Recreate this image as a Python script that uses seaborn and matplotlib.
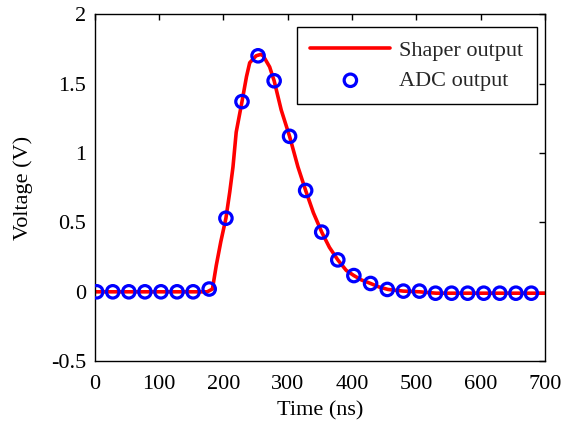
import matplotlib
matplotlib.use("Agg")
import matplotlib.pyplot as plt
import seaborn as sns
import pandas as pd

# Shaper output (continuous curve)
shaper_t = [0, 100, 175, 183, 189, 196, 204, 210, 215, 220, 229, 236, 241, 251,
            258, 262, 272, 279, 290, 303, 316, 328, 340, 353, 365, 378, 391,
            403, 415, 429, 442, 456, 480, 505, 531, 600, 700]
shaper_v = [0.0, 0.0, 0.0, 0.02, 0.19, 0.36, 0.53, 0.72, 0.90, 1.15, 1.37, 1.55,
            1.65, 1.70, 1.71, 1.70, 1.62, 1.52, 1.31, 1.12, 0.90, 0.73, 0.57,
            0.43, 0.32, 0.23, 0.155, 0.117, 0.085, 0.06, 0.035, 0.017, 0.005,
            0.0, -0.01, -0.01, -0.01]

# ADC output samples
adc_t = [3, 28, 53, 78, 103, 128, 153, 178, 204, 229, 254, 279, 303, 328,
         353, 378, 403, 429, 455, 480, 505, 530, 555, 580, 605, 630, 655, 679]
adc_v = [0.0, 0.0, 0.0, 0.0, 0.0, 0.0, 0.0, 0.02, 0.53, 1.37, 1.70, 1.52,
         1.12, 0.73, 0.43, 0.23, 0.117, 0.06, 0.017, 0.005, 0.005, -0.01,
         -0.01, -0.01, -0.01, -0.01, -0.01, -0.01]

xticks = [0, 100, 200, 300, 400, 500, 600, 700]
xtick_labels = ["0", "100", "200", "300", "400", "500", "600", "700"]
yticks = [-0.5, 0, 0.5, 1, 1.5, 2]
ytick_labels = ["-0.5", "0", "0.5", "1", "1.5", "2"]

sns.set_theme(style="white")
plt.rcParams["font.family"] = ["Liberation Serif", "DejaVu Serif"]

df_line = pd.DataFrame({"t": shaper_t, "v": shaper_v})
df_adc = pd.DataFrame({"t": adc_t, "v": adc_v})

fig = plt.figure(figsize=(5.64, 4.29), dpi=100)
ax = fig.add_axes([0.168, 0.158, 0.798, 0.809])

sns.lineplot(data=df_line, x="t", y="v", ax=ax, color="#ff0000", linewidth=2.6,
             label="Shaper output", estimator=None, sort=False)
sns.scatterplot(data=df_adc, x="t", y="v", ax=ax, marker="o", s=80,
                facecolors="none", edgecolor="#0000ff", linewidth=2.3,
                label="ADC output", zorder=3)

ax.set_xlim(0, 700)
ax.set_ylim(-0.5, 2)
ax.set_xticks(xticks)
ax.set_xticklabels(xtick_labels)
ax.set_yticks(yticks)
ax.set_yticklabels(ytick_labels)
ax.tick_params(direction="in", length=4, width=1, top=True, right=True,
               labelsize=16, colors="black")
ax.tick_params(axis="x", pad=10)
ax.tick_params(axis="y", pad=6)
for s in ax.spines.values():
    s.set_color("black")
    s.set_linewidth(1.0)
    s.set_visible(True)

ax.set_xlabel("Time (ns)", fontsize=16, color="black", labelpad=5)
ax.set_ylabel("Voltage (V)", fontsize=16, color="black", labelpad=13)

leg = ax.legend(loc="upper right", bbox_to_anchor=(0.982, 0.962), fontsize=16,
                frameon=True, fancybox=False, shadow=False, framealpha=1,
                edgecolor="black", handlelength=3.6, handletextpad=0.4,
                borderpad=0.6, labelspacing=0.42, borderaxespad=0)
leg.get_frame().set_linewidth(1.0)

fig.savefig("out.png", dpi=100)
